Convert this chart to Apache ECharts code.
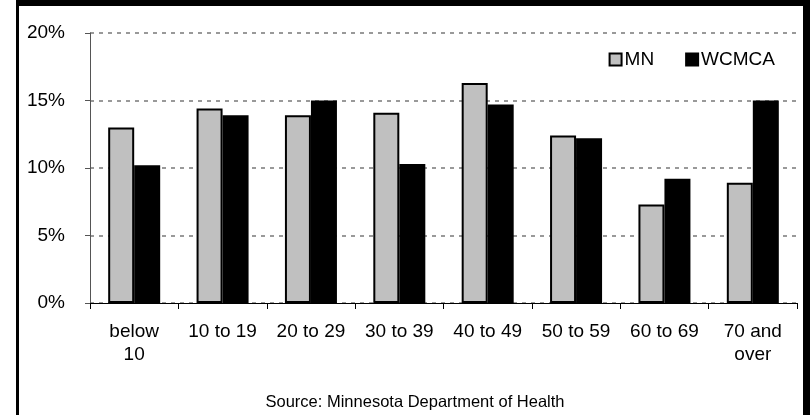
<!DOCTYPE html>
<html>
<head>
<meta charset="utf-8">
<script src="https://cdn.jsdelivr.net/npm/echarts@6/dist/echarts.min.js"></script>
<style>
html,body{margin:0;padding:0;background:#fff;}
#chart{width:810px;height:415px;}
</style>
</head>
<body>
<div id="chart"></div>
<script>
var categories = ['below\n10', '10 to 19', '20 to 29', '30 to 39', '40 to 49', '50 to 59', '60 to 69', '70 and\nover'];
var mnValues = [13.0, 14.4, 13.9, 14.1, 16.3, 12.4, 7.3, 8.9];
var wcmcaValues = [10.2, 13.9, 15.0, 10.3, 14.7, 12.2, 9.2, 15.0];
var yTicks = [0, 5, 10, 15, 20];
var sourceText = 'Source: Minnesota Department of Health';

var FONT = '"Liberation Sans", Arial, sans-serif';
var chart = echarts.init(document.getElementById('chart'), null, {renderer: 'canvas'});
chart.setOption({
  backgroundColor: '#fff',
  animation: false,
  grid: {left: 90, right: 13, top: 33, bottom: 112, containLabel: false},
  legend: {
    right: 30, top: 45,
    itemWidth: 12, itemHeight: 12, itemGap: 31,
    textStyle: {fontFamily: FONT, fontSize: 19, color: '#000', padding: [0, 0, 0, -2]},
    data: [
      {name: 'MN', icon: 'rect', itemStyle: {color: '#c0c0c0', borderColor: '#000', borderWidth: 2}},
      {name: 'WCMCA', icon: 'rect', itemStyle: {color: '#000'}}
    ]
  },
  xAxis: {
    type: 'category',
    data: categories,
    axisLine: {lineStyle: {color: '#000', width: 1}},
    axisTick: {show: true, alignWithLabel: false, length: 6, lineStyle: {color: '#000'}},
    axisLabel: {fontFamily: FONT, fontSize: 19, color: '#000', margin: 17, lineHeight: 23, interval: 0}
  },
  yAxis: {
    type: 'value',
    min: yTicks[0], max: yTicks[yTicks.length - 1], interval: 5,
    axisLine: {show: true, lineStyle: {color: '#555', width: 1}},
    axisTick: {show: true, length: 5, lineStyle: {color: '#555'}},
    axisLabel: {fontFamily: FONT, fontSize: 19, color: '#000', margin: 25, formatter: function (v) { return v + '%'; }},
    splitLine: {show: true, lineStyle: {color: '#999', width: 2, type: [4, 5]}}
  },
  series: [
    {name: 'MN', type: 'bar', data: mnValues, barWidth: 26, barGap: '0%',
     itemStyle: {color: '#c0c0c0', borderColor: '#000', borderWidth: 2}},
    {name: 'WCMCA', type: 'bar', data: wcmcaValues, barWidth: 26, barGap: '0%',
     itemStyle: {color: '#000', borderColor: '#000', borderWidth: 2}}
  ],
  graphic: [
    {type: 'rect', shape: {x: 16, y: 0, width: 3, height: 415}, style: {fill: '#000'}, silent: true},
    {type: 'rect', shape: {x: 16, y: 0, width: 794, height: 6}, style: {fill: '#000'}, silent: true},
    {type: 'rect', shape: {x: 803, y: 0, width: 7, height: 415}, style: {fill: '#000'}, silent: true},
    {type: 'text', x: 415, y: 394, style: {text: sourceText, font: '16.5px ' + FONT, fill: '#000', textAlign: 'center'}}
  ]
});
</script>
</body>
</html>
